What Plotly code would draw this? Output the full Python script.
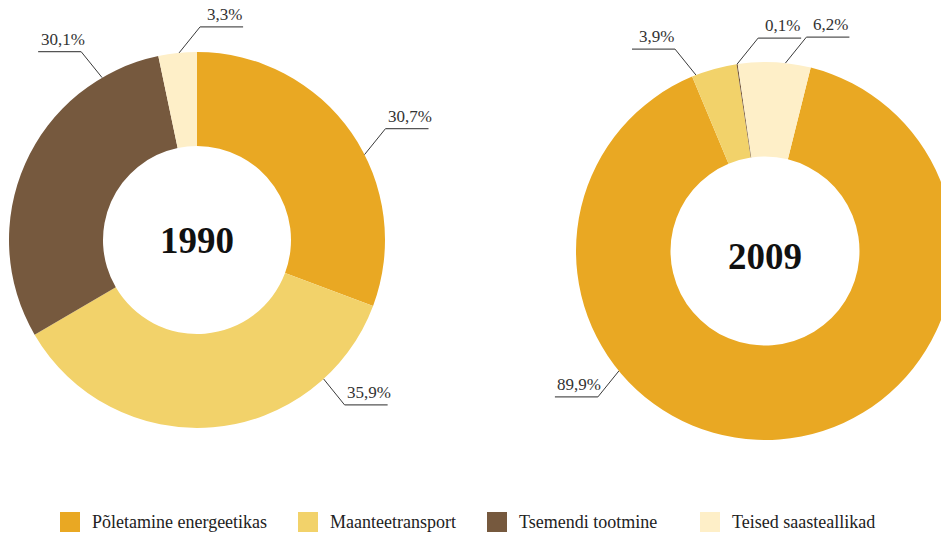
import math
import plotly.graph_objects as go

# ---------------- data ----------------
categories = ["Põletamine energeetikas", "Maanteetransport", "Tsemendi tootmine", "Teised saasteallikad"]
years = ["1990", "2009"]
values_1990 = [30.7, 35.9, 30.1, 3.3]
values_2009 = [89.9, 3.9, 0.1, 6.2]
labels_1990 = ["30,7%", "35,9%", "30,1%", "3,3%"]
labels_2009 = ["89,9%", "3,9%", "0,1%", "6,2%"]

# ---------------- style ----------------
colors = ["#E9A823", "#F2D26A", "#76593E", "#FEEFC8"]
FONT = "Liberation Serif"
W, H = 960, 533

# pie boxes in pixels: (left, top, size), rotation
pies = [
    dict(values=values_1990, labels=labels_1990, year=years[0], box=(9, 52, 376), rotation=0, year_dy=0,
         # (slice index, position within slice, x-dir, y-dir)
         leaders=[(0, 0.57, 1, -1), (1, 0.21, 1, 1), (2, 0.83, -1, -1), (3, 0.54, 1, -1)]),
    dict(values=values_2009, labels=labels_2009, year=years[1], box=(576, 62, 378), rotation=14, year_dy=5,
         leaders=[(0, 0.67, -1, 1), (1, 0.09, -1, -1), (2, 0.5, 1, -1), (3, 0.65, 1, -1)]),
]

def px(x):
    return x / W

def py(y):
    return 1 - y / H

fig = go.Figure()
shapes = []
annotations = []

for p in pies:
    left, top, size = p["box"]
    fig.add_trace(go.Pie(
        values=p["values"], labels=categories, sort=False, direction="clockwise",
        rotation=p["rotation"], hole=0.5, textinfo="none", hoverinfo="label+percent",
        marker=dict(colors=colors, line=dict(width=0)), showlegend=False,
        domain=dict(x=[px(left), px(left + size)], y=[py(top + size), py(top)]),
    ))
    cx, cy, r = left + size / 2, top + size / 2, size / 2
    annotations.append(dict(x=px(cx), y=py(cy + p["year_dy"]), xref="paper", yref="paper",
                            xanchor="center", yanchor="middle", text="<b>%s</b>" % p["year"],
                            showarrow=False, font=dict(family=FONT, size=37, color="#111111")))
    total = sum(p["values"])
    for idx, frac, sx, sy in p["leaders"]:
        start = p["rotation"] + 360 * sum(p["values"][:idx]) / total
        ang = math.radians(start + frac * 360 * p["values"][idx] / total)
        ax, ay = cx + r * math.sin(ang), cy - r * math.cos(ang)
        ex, ey = ax + 21 * sx, ay + 26 * sy
        ux = ex + 43 * sx
        shapes.append(dict(type="line", xref="paper", yref="paper", x0=px(ax), y0=py(ay), x1=px(ex), y1=py(ey),
                           line=dict(color="#3a3a3a", width=1)))
        shapes.append(dict(type="line", xref="paper", yref="paper", x0=px(ex), y0=py(ey), x1=px(ux), y1=py(ey),
                           line=dict(color="#555555", width=1.3)))
        mid = (ex + ux) / 2 + 3
        annotations.append(dict(x=px(mid), y=py(ey - 1), xref="paper", yref="paper", xanchor="center",
                                yanchor="bottom", text=p["labels"][idx], showarrow=False,
                                font=dict(family=FONT, size=17, color="#333333")))

# legend drawn as squares + text
legend_x = [60, 298, 487, 700]
for name, col, lx in zip(categories, colors, legend_x):
    shapes.append(dict(type="rect", xref="paper", yref="paper", x0=px(lx), x1=px(lx + 20),
                       y0=py(532), y1=py(512), fillcolor=col, line=dict(width=0)))
    annotations.append(dict(x=px(lx + 30), y=py(522), xref="paper", yref="paper", xanchor="left",
                            yanchor="middle", text=name, showarrow=False,
                            font=dict(family=FONT, size=18, color="#222222")))

fig.update_layout(
    width=W, height=H, margin=dict(l=0, r=0, t=0, b=0),
    paper_bgcolor="white", plot_bgcolor="white",
    shapes=shapes, annotations=annotations,
)

fig.write_html("out.html", config={"displayModeBar": False},
               post_script="document.body.style.margin='0';document.body.style.overflow='hidden';document.documentElement.style.overflow='hidden';")
